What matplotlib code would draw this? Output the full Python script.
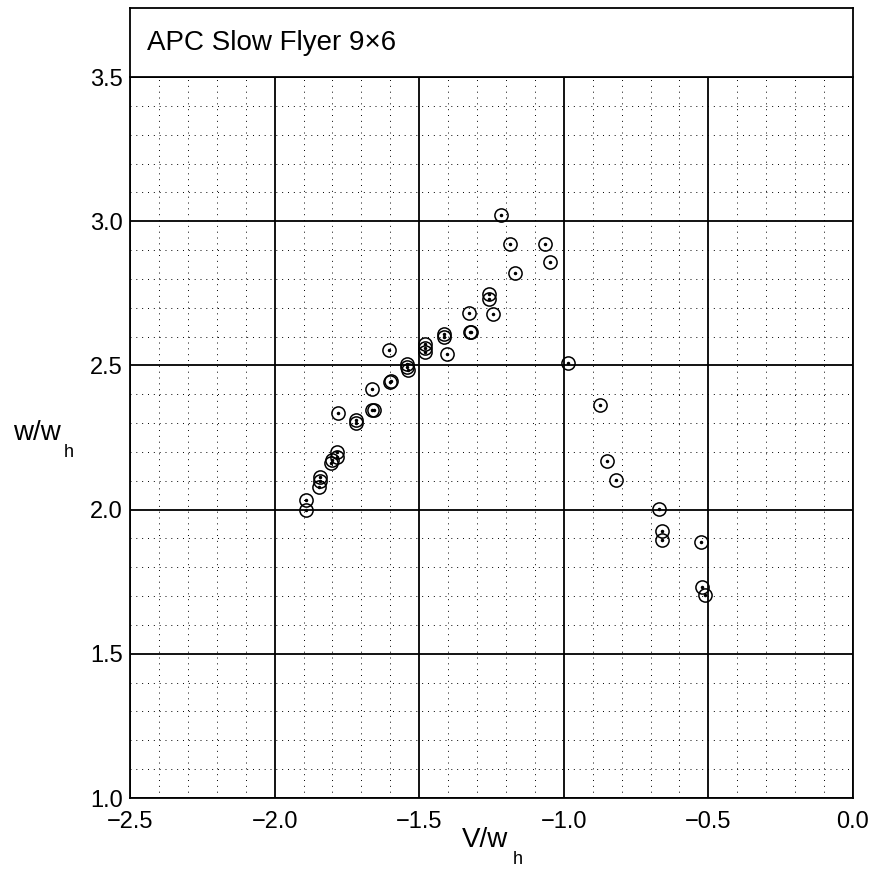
import matplotlib
matplotlib.use("Agg")
from matplotlib import pyplot as plt
from matplotlib.ticker import MultipleLocator, FuncFormatter
import numpy as np

plt.rcParams['font.family'] = ['Liberation Sans', 'DejaVu Sans']

# advance ratio vs. normalised induced velocity
v_wh = [-1.218, -1.186, -1.065, -1.046, -1.169, -1.260, -1.260, -1.246,
        -1.328, -1.323, -1.320, -1.415, -1.415, -1.404, -1.481, -1.481,
        -1.481, -1.543, -1.541, -1.539, -1.604, -1.599, -1.601, -1.662,
        -1.663, -1.658, -1.780, -1.719, -1.719, -1.784, -1.784, -1.802,
        -1.805, -1.844, -1.844, -1.846, -1.892, -1.890,
        -0.985, -0.875, -0.851, -0.821, -0.670, -0.660, -0.660, -0.525,
        -0.522, -0.511]
w_wh = [3.023, 2.920, 2.920, 2.860, 2.820, 2.747, 2.730, 2.678,
        2.682, 2.615, 2.617, 2.609, 2.600, 2.540, 2.574, 2.559,
        2.547, 2.505, 2.494, 2.485, 2.553, 2.447, 2.442, 2.417,
        2.347, 2.347, 2.334, 2.311, 2.299, 2.198, 2.183, 2.172,
        2.160, 2.114, 2.100, 2.079, 2.033, 1.999,
        2.509, 2.363, 2.169, 2.104, 2.002, 1.927, 1.896, 1.886,
        1.733, 1.703]
title = "APC Slow Flyer 9\u00d76"

W, H = 878, 880
fig = plt.figure(figsize=(W/100, H/100), dpi=100)
ax = fig.add_axes([130/W, 1-798/H, 723/W, 721/H])
tax = fig.add_axes([130/W, 1-77/H, 723/W, 69/H])

def fmt(v, pos):
    return ("%.1f" % v).replace("-", "\u2212")

ax.set_xlim(-2.5, 0.0)
ax.set_ylim(1.0, 3.5)
ax.xaxis.set_major_locator(MultipleLocator(0.5))
ax.yaxis.set_major_locator(MultipleLocator(0.5))
ax.xaxis.set_minor_locator(MultipleLocator(0.1))
ax.yaxis.set_minor_locator(MultipleLocator(0.1))
ax.xaxis.set_major_formatter(FuncFormatter(fmt))
ax.yaxis.set_major_formatter(FuncFormatter(fmt))
ax.grid(which='major', color='black', linewidth=1.3)
ax.grid(which='minor', color='black', linewidth=0.7, linestyle=(0, (1, 5)))
ax.set_axisbelow(True)
ax.tick_params(which='both', length=0)
ax.tick_params(axis='x', pad=9, labelsize=17)
ax.tick_params(axis='y', pad=5, labelsize=17)
for s in ax.spines.values():
    s.set_linewidth(1.3)

ax.plot(v_wh, w_wh, 'o', markersize=9.5, markerfacecolor='none',
        markeredgecolor='black', markeredgewidth=1.1, zorder=3)
ax.plot(v_wh, w_wh, 'o', markersize=1.5, color='black', zorder=4)

# axis labels with a low subscript, placed in pixels
fig.text(13/W, 1-440/H, "w/w", fontsize=20, ha='left', va='baseline')
fig.text(64/W, 1-457/H, "h", fontsize=13, ha='left', va='baseline')
fig.text(462/W, 1-847/H, "V/w", fontsize=20, ha='left', va='baseline')
fig.text(513/W, 1-864/H, "h", fontsize=13, ha='left', va='baseline')

tax.set_xticks([])
tax.set_yticks([])
for s in tax.spines.values():
    s.set_linewidth(1.3)
tax.text(17/723, 0.5, title, fontsize=20, ha='left', va='center',
         transform=tax.transAxes)

plt.savefig("out.png", dpi=100)
plt.close()
